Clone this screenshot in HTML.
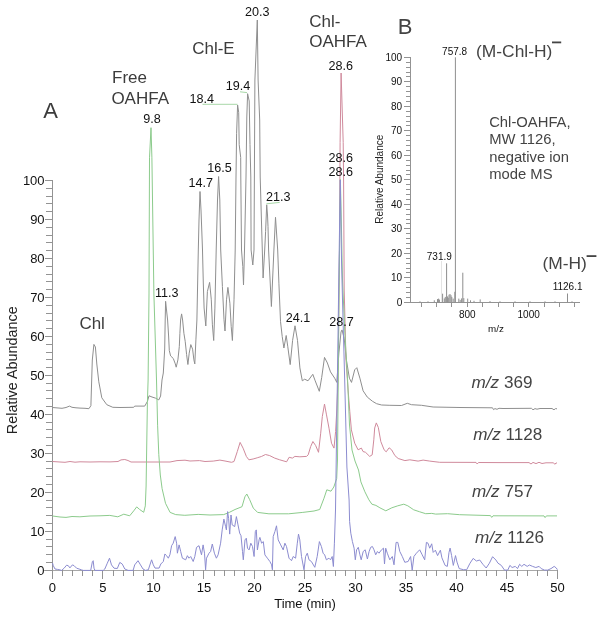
<!DOCTYPE html>
<html><head><meta charset="utf-8"><title>Chromatogram</title>
<style>html,body{margin:0;padding:0;background:#fff;}body{width:602px;height:619px;overflow:hidden;}svg{display:block;will-change:transform;}text{font-family:"Liberation Sans",sans-serif;}</style></head><body>
<svg width="602" height="619" viewBox="0 0 602 619">
<rect width="602" height="619" fill="#fff"/>
<g stroke="#939393" stroke-width="1" fill="none" shape-rendering="crispEdges"><line x1="52.4" y1="180.4" x2="52.4" y2="578.8"/><line x1="44.4" y1="570.3" x2="557.4" y2="570.3" stroke="#a8a8a8"/><line x1="44.6" y1="570.3" x2="52.4" y2="570.3"/><line x1="46.2" y1="562.5" x2="52.4" y2="562.5"/><line x1="46.2" y1="554.7" x2="52.4" y2="554.7"/><line x1="46.2" y1="546.9" x2="52.4" y2="546.9"/><line x1="46.2" y1="539.1" x2="52.4" y2="539.1"/><line x1="44.6" y1="531.3" x2="52.4" y2="531.3"/><line x1="46.2" y1="523.5" x2="52.4" y2="523.5"/><line x1="46.2" y1="515.7" x2="52.4" y2="515.7"/><line x1="46.2" y1="507.9" x2="52.4" y2="507.9"/><line x1="46.2" y1="500.1" x2="52.4" y2="500.1"/><line x1="44.6" y1="492.3" x2="52.4" y2="492.3"/><line x1="46.2" y1="484.5" x2="52.4" y2="484.5"/><line x1="46.2" y1="476.7" x2="52.4" y2="476.7"/><line x1="46.2" y1="468.9" x2="52.4" y2="468.9"/><line x1="46.2" y1="461.1" x2="52.4" y2="461.1"/><line x1="44.6" y1="453.3" x2="52.4" y2="453.3"/><line x1="46.2" y1="445.5" x2="52.4" y2="445.5"/><line x1="46.2" y1="437.7" x2="52.4" y2="437.7"/><line x1="46.2" y1="429.9" x2="52.4" y2="429.9"/><line x1="46.2" y1="422.1" x2="52.4" y2="422.1"/><line x1="44.6" y1="414.3" x2="52.4" y2="414.3"/><line x1="46.2" y1="406.5" x2="52.4" y2="406.5"/><line x1="46.2" y1="398.7" x2="52.4" y2="398.7"/><line x1="46.2" y1="390.9" x2="52.4" y2="390.9"/><line x1="46.2" y1="383.1" x2="52.4" y2="383.1"/><line x1="44.6" y1="375.3" x2="52.4" y2="375.3"/><line x1="46.2" y1="367.6" x2="52.4" y2="367.6"/><line x1="46.2" y1="359.8" x2="52.4" y2="359.8"/><line x1="46.2" y1="352.0" x2="52.4" y2="352.0"/><line x1="46.2" y1="344.2" x2="52.4" y2="344.2"/><line x1="44.6" y1="336.4" x2="52.4" y2="336.4"/><line x1="46.2" y1="328.6" x2="52.4" y2="328.6"/><line x1="46.2" y1="320.8" x2="52.4" y2="320.8"/><line x1="46.2" y1="313.0" x2="52.4" y2="313.0"/><line x1="46.2" y1="305.2" x2="52.4" y2="305.2"/><line x1="44.6" y1="297.4" x2="52.4" y2="297.4"/><line x1="46.2" y1="289.6" x2="52.4" y2="289.6"/><line x1="46.2" y1="281.8" x2="52.4" y2="281.8"/><line x1="46.2" y1="274.0" x2="52.4" y2="274.0"/><line x1="46.2" y1="266.2" x2="52.4" y2="266.2"/><line x1="44.6" y1="258.4" x2="52.4" y2="258.4"/><line x1="46.2" y1="250.6" x2="52.4" y2="250.6"/><line x1="46.2" y1="242.8" x2="52.4" y2="242.8"/><line x1="46.2" y1="235.0" x2="52.4" y2="235.0"/><line x1="46.2" y1="227.2" x2="52.4" y2="227.2"/><line x1="44.6" y1="219.4" x2="52.4" y2="219.4"/><line x1="46.2" y1="211.6" x2="52.4" y2="211.6"/><line x1="46.2" y1="203.8" x2="52.4" y2="203.8"/><line x1="46.2" y1="196.0" x2="52.4" y2="196.0"/><line x1="46.2" y1="188.2" x2="52.4" y2="188.2"/><line x1="44.6" y1="180.4" x2="52.4" y2="180.4"/><line x1="52.4" y1="570.3" x2="52.4" y2="579.1"/><line x1="62.5" y1="570.3" x2="62.5" y2="576.1"/><line x1="72.6" y1="570.3" x2="72.6" y2="576.1"/><line x1="82.7" y1="570.3" x2="82.7" y2="576.1"/><line x1="92.8" y1="570.3" x2="92.8" y2="576.1"/><line x1="102.9" y1="570.3" x2="102.9" y2="579.1"/><line x1="113.0" y1="570.3" x2="113.0" y2="576.1"/><line x1="123.1" y1="570.3" x2="123.1" y2="576.1"/><line x1="133.2" y1="570.3" x2="133.2" y2="576.1"/><line x1="143.3" y1="570.3" x2="143.3" y2="576.1"/><line x1="153.4" y1="570.3" x2="153.4" y2="579.1"/><line x1="163.5" y1="570.3" x2="163.5" y2="576.1"/><line x1="173.6" y1="570.3" x2="173.6" y2="576.1"/><line x1="183.7" y1="570.3" x2="183.7" y2="576.1"/><line x1="193.8" y1="570.3" x2="193.8" y2="576.1"/><line x1="203.9" y1="570.3" x2="203.9" y2="579.1"/><line x1="214.0" y1="570.3" x2="214.0" y2="576.1"/><line x1="224.1" y1="570.3" x2="224.1" y2="576.1"/><line x1="234.2" y1="570.3" x2="234.2" y2="576.1"/><line x1="244.3" y1="570.3" x2="244.3" y2="576.1"/><line x1="254.4" y1="570.3" x2="254.4" y2="579.1"/><line x1="264.5" y1="570.3" x2="264.5" y2="576.1"/><line x1="274.6" y1="570.3" x2="274.6" y2="576.1"/><line x1="284.7" y1="570.3" x2="284.7" y2="576.1"/><line x1="294.8" y1="570.3" x2="294.8" y2="576.1"/><line x1="304.9" y1="570.3" x2="304.9" y2="579.1"/><line x1="315.0" y1="570.3" x2="315.0" y2="576.1"/><line x1="325.1" y1="570.3" x2="325.1" y2="576.1"/><line x1="335.2" y1="570.3" x2="335.2" y2="576.1"/><line x1="345.3" y1="570.3" x2="345.3" y2="576.1"/><line x1="355.4" y1="570.3" x2="355.4" y2="579.1"/><line x1="365.5" y1="570.3" x2="365.5" y2="576.1"/><line x1="375.6" y1="570.3" x2="375.6" y2="576.1"/><line x1="385.7" y1="570.3" x2="385.7" y2="576.1"/><line x1="395.8" y1="570.3" x2="395.8" y2="576.1"/><line x1="405.9" y1="570.3" x2="405.9" y2="579.1"/><line x1="416.0" y1="570.3" x2="416.0" y2="576.1"/><line x1="426.1" y1="570.3" x2="426.1" y2="576.1"/><line x1="436.2" y1="570.3" x2="436.2" y2="576.1"/><line x1="446.3" y1="570.3" x2="446.3" y2="576.1"/><line x1="456.4" y1="570.3" x2="456.4" y2="579.1"/><line x1="466.5" y1="570.3" x2="466.5" y2="576.1"/><line x1="476.6" y1="570.3" x2="476.6" y2="576.1"/><line x1="486.7" y1="570.3" x2="486.7" y2="576.1"/><line x1="496.8" y1="570.3" x2="496.8" y2="576.1"/><line x1="506.9" y1="570.3" x2="506.9" y2="579.1"/><line x1="517.0" y1="570.3" x2="517.0" y2="576.1"/><line x1="527.1" y1="570.3" x2="527.1" y2="576.1"/><line x1="537.2" y1="570.3" x2="537.2" y2="576.1"/><line x1="547.3" y1="570.3" x2="547.3" y2="576.1"/><line x1="557.4" y1="570.3" x2="557.4" y2="579.1"/></g>
<g font-size="13" fill="#111"><text x="44.6" y="575.1" text-anchor="end">0</text><text x="44.6" y="536.1" text-anchor="end">10</text><text x="44.6" y="497.1" text-anchor="end">20</text><text x="44.6" y="458.1" text-anchor="end">30</text><text x="44.6" y="419.1" text-anchor="end">40</text><text x="44.6" y="380.1" text-anchor="end">50</text><text x="44.6" y="341.2" text-anchor="end">60</text><text x="44.6" y="302.2" text-anchor="end">70</text><text x="44.6" y="263.2" text-anchor="end">80</text><text x="44.6" y="224.2" text-anchor="end">90</text><text x="44.6" y="185.2" text-anchor="end">100</text><text x="52.4" y="591.5" text-anchor="middle">0</text><text x="102.9" y="591.5" text-anchor="middle">5</text><text x="153.4" y="591.5" text-anchor="middle">10</text><text x="203.9" y="591.5" text-anchor="middle">15</text><text x="254.4" y="591.5" text-anchor="middle">20</text><text x="304.9" y="591.5" text-anchor="middle">25</text><text x="355.4" y="591.5" text-anchor="middle">30</text><text x="405.9" y="591.5" text-anchor="middle">35</text><text x="456.4" y="591.5" text-anchor="middle">40</text><text x="506.9" y="591.5" text-anchor="middle">45</text><text x="557.4" y="591.5" text-anchor="middle">50</text></g>
<text x="305" y="607.8" font-size="13" fill="#111" text-anchor="middle">Time (min)</text>
<text transform="translate(17.2,370.2) rotate(-90)" font-size="14.4" fill="#222" text-anchor="middle">Relative Abundance</text>
<g fill="none" stroke-width="1" stroke-linejoin="round">
<polyline stroke="#8f8f8f" points="52.5,407.5 56.0,407.8 62.0,408.3 66.0,407.5 69.5,406.1 72.0,407.3 76.0,407.8 80.0,408.1 85.0,408.3 88.9,408.7 90.9,405.7 92.3,360.0 93.9,344.4 95.4,347.0 96.8,364.0 98.8,381.8 101.8,397.8 106.8,404.7 112.8,407.3 120.0,407.5 133.7,407.3 134.7,406.1 144.7,406.1 147.4,401.5 149.0,395.8 152.0,397.0 155.4,398.1 158.8,399.9 160.6,396.0 162.0,380.0 163.3,373.0 164.7,349.0 165.2,320.0 165.6,301.3 166.5,310.0 167.6,320.0 168.6,336.0 169.3,350.6 170.6,355.9 173.3,358.5 175.3,363.9 176.2,367.2 177.9,359.9 179.3,346.6 179.9,333.3 180.6,320.0 181.6,313.9 182.6,320.0 183.9,333.3 185.2,341.3 186.6,354.6 187.9,364.5 189.2,353.2 190.8,344.6 192.6,349.2 193.9,359.9 194.8,363.9 195.9,339.9 196.9,320.0 197.5,290.0 198.3,250.0 199.0,220.0 200.0,191.5 201.0,210.0 202.5,250.0 203.3,283.0 204.1,308.0 205.8,326.0 207.4,291.5 209.6,282.4 211.3,299.8 212.4,324.8 213.7,340.5 214.9,308.1 216.2,250.0 217.5,200.0 218.6,176.5 219.8,200.0 220.7,250.0 222.4,286.5 224.0,319.8 225.0,331.0 226.5,299.8 227.9,287.4 229.9,303.2 231.2,326.4 232.4,340.5 234.0,299.8 235.2,250.0 236.0,177.0 236.6,133.3 237.6,105.0 238.7,112.3 239.2,144.6 240.7,157.5 240.8,177.0 241.5,250.0 242.8,266.6 243.5,285.0 244.5,250.0 246.0,177.0 246.8,117.0 247.6,93.7 249.2,101.0 250.0,144.6 250.8,177.0 251.1,250.0 252.8,265.0 254.0,250.0 254.9,80.0 257.3,20.0 258.1,80.0 259.7,120.0 260.2,177.0 262.3,250.0 263.1,278.0 264.7,250.0 265.6,231.4 266.7,204.8 267.5,215.0 268.0,226.4 268.6,250.0 271.4,306.5 273.9,250.0 275.5,217.3 277.7,250.0 278.9,283.2 280.5,321.4 282.2,336.4 283.9,348.0 286.2,335.5 287.8,346.8 290.2,364.6 292.6,340.4 295.0,325.8 297.5,340.4 299.9,367.9 302.3,380.8 304.7,379.2 308.0,380.8 312.8,374.3 315.2,380.8 319.3,391.3 321.7,377.5 324.5,357.4 327.4,363.0 330.5,371.9 334.7,378.2 336.8,382.4 338.9,353.0 341.0,332.0 342.0,329.9 344.2,338.3 346.3,359.3 349.4,378.2 351.5,382.4 354.7,369.8 356.8,367.7 359.9,378.2 363.1,390.8 367.3,397.1 372.5,401.3 376.6,403.7 381.6,405.0 389.9,405.3 401.5,405.5 407.3,403.3 411.5,404.7 421.5,405.3 433.1,407.0 460.0,407.5 492.5,407.8 493.5,409.6 495.0,408.6 497.0,409.3 499.0,408.3 503.0,408.5 531.4,408.3 533.0,409.8 535.0,408.6 537.0,409.2 540.0,408.5 552.0,408.5 554.0,409.8 555.5,408.6 557.0,408.8"/>
<polyline stroke="#d08a9c" points="52.5,461.5 60.0,462.0 65.0,462.3 70.0,461.5 75.0,462.2 80.0,461.8 90.0,462.0 100.0,461.8 110.0,461.9 118.0,461.5 121.0,459.9 124.8,459.5 128.0,460.5 131.0,462.0 170.0,462.0 177.0,460.6 185.0,460.2 190.0,461.0 199.5,460.6 205.0,461.5 213.2,461.1 219.9,460.1 225.0,461.0 231.5,462.3 234.0,461.5 237.3,451.5 240.1,442.4 243.1,448.2 246.4,456.5 248.9,459.8 253.1,459.0 257.2,457.8 261.4,456.5 265.5,454.5 269.7,455.6 274.7,458.1 279.7,459.8 286.6,461.8 289.1,457.3 292.4,458.1 294.9,456.4 299.9,456.8 306.6,456.4 308.2,454.8 310.7,446.5 312.9,441.5 315.7,445.6 318.5,452.3 320.7,433.2 322.3,416.6 324.5,404.1 326.5,414.9 329.0,428.2 331.5,443.2 334.0,448.1 335.6,431.5 336.8,410.0 338.0,380.0 339.5,250.0 340.1,142.5 341.1,73.0 343.2,142.5 343.6,181.0 344.2,290.0 346.0,360.0 348.1,390.0 349.8,411.6 351.4,429.9 354.7,443.2 358.1,449.8 361.4,448.1 363.0,451.5 365.5,452.3 369.7,456.4 372.2,454.8 373.8,439.8 374.7,428.0 376.3,422.9 378.3,427.4 380.8,441.5 384.1,449.8 386.2,451.8 389.1,447.8 391.6,449.8 394.9,455.6 398.2,458.5 404.9,460.6 409.8,459.8 418.1,461.1 423.1,460.1 429.8,461.1 439.7,462.3 476.0,462.4 477.2,464.0 478.5,462.5 500.0,462.6 529.0,462.6 531.0,464.0 533.0,462.4 536.0,463.6 539.0,462.3 542.0,463.5 546.0,462.8 553.5,462.8 554.8,464.3 556.0,463.0 557.0,463.0"/>
<polyline stroke="#8ccb8c" points="52.5,516.0 54.0,516.2 60.0,517.0 66.0,517.4 72.0,516.5 79.9,516.8 90.0,516.0 100.0,515.8 109.8,515.4 117.8,516.8 123.8,514.2 129.7,515.8 133.7,510.9 136.7,506.9 139.7,509.5 143.7,512.3 145.3,505.9 146.1,486.0 147.4,402.6 148.1,380.0 149.0,294.0 149.5,157.8 151.0,127.7 151.9,157.8 153.9,294.0 156.5,380.0 157.6,425.2 158.8,454.7 160.3,475.0 162.1,488.6 165.5,503.3 170.1,512.4 175.7,514.6 184.8,515.3 198.2,514.4 210.0,515.0 223.7,514.6 229.3,512.4 235.0,509.5 242.0,506.7 244.9,496.8 246.8,494.0 249.7,499.7 253.3,508.1 257.6,512.4 268.9,513.8 288.6,513.8 302.8,512.4 314.0,511.0 319.7,509.5 324.0,498.2 326.8,489.8 331.0,491.2 333.8,487.0 336.7,478.5 337.5,460.0 338.5,350.0 339.5,250.0 340.4,179.5 341.5,230.0 342.5,280.0 345.2,340.0 347.6,380.0 349.5,425.0 352.0,450.0 355.0,461.0 358.5,470.0 360.9,481.9 364.9,491.8 368.9,499.8 371.9,504.2 375.9,505.4 379.9,507.8 385.8,510.8 391.8,507.8 397.8,505.8 403.8,504.2 407.8,505.8 413.7,509.8 419.7,511.8 425.7,513.7 431.7,513.4 435.7,514.1 447.6,513.7 459.6,514.7 490.5,515.6 491.7,517.4 493.0,515.8 544.0,515.9 545.1,517.6 546.4,515.9 557.0,515.9"/>
<polyline stroke="#8c8cd0" points="52.5,563.0 53.3,565.7 55.0,569.0 57.5,569.4 60.0,569.9 61.6,570.4 64.1,568.2 66.6,565.2 68.3,565.7 69.9,567.9 72.4,564.9 74.1,565.7 76.6,568.2 79.1,569.0 81.6,569.9 83.2,570.4 90.7,570.4 92.4,561.6 93.2,560.7 94.0,568.2 94.9,570.4 103.2,570.4 104.8,569.0 107.3,563.2 109.5,558.2 111.5,564.9 114.0,568.2 117.3,568.5 119.8,562.4 122.3,564.1 124.8,569.0 128.1,570.4 133.1,570.4 134.7,564.9 138.0,560.7 140.5,564.9 143.0,569.0 145.5,570.4 148.3,569.8 151.6,559.8 153.3,564.8 155.0,568.1 159.1,568.1 160.8,564.0 163.3,561.5 164.9,554.0 166.6,555.7 168.3,558.2 169.9,554.8 171.6,545.7 173.2,543.2 175.2,536.6 176.6,543.2 177.4,553.2 179.1,544.9 180.7,551.5 182.4,558.2 185.7,559.8 187.4,555.7 189.0,558.2 190.7,556.5 193.2,561.5 194.8,556.5 196.5,547.4 199.0,545.7 201.5,554.8 203.1,544.9 204.5,553.2 205.6,569.8 206.5,558.2 209.0,553.2 210.6,551.5 212.3,544.0 214.4,553.2 216.4,558.2 218.1,554.8 220.6,543.2 222.2,529.9 223.9,519.1 225.6,526.6 226.4,529.9 227.6,511.6 228.6,518.3 229.7,534.1 231.0,515.0 232.2,524.9 234.7,526.6 236.4,516.6 238.0,524.9 239.7,533.2 241.0,535.7 242.5,551.5 243.3,559.8 245.0,539.9 246.3,538.2 247.5,548.2 249.1,549.9 250.8,543.2 252.5,546.5 254.1,556.5 255.3,531.6 256.3,529.9 257.4,549.9 259.1,539.9 259.9,537.4 261.6,543.2 263.3,541.6 264.9,554.9 267.4,558.2 269.9,561.5 271.6,564.8 272.4,569.8 273.2,536.6 274.9,531.6 276.5,525.8 278.2,539.9 280.7,544.9 283.2,549.9 284.9,543.2 286.5,546.5 289.0,558.2 291.5,560.7 293.2,556.5 295.6,558.2 297.3,543.2 298.5,534.1 299.8,539.9 301.5,556.5 304.0,569.8 305.6,556.5 307.3,553.2 309.0,559.8 311.4,561.5 314.8,567.3 317.2,556.5 319.4,541.6 321.4,546.5 323.1,553.2 324.7,554.9 326.4,559.8 328.9,558.2 330.5,559.8 332.2,556.5 333.4,566.5 334.4,543.2 335.5,510.0 336.5,440.0 337.4,380.0 338.5,300.0 339.5,230.0 340.3,180.0 340.9,220.0 341.5,260.0 342.5,300.0 344.7,380.0 346.9,467.0 349.1,500.0 349.6,521.6 350.8,533.2 352.4,541.5 354.1,548.2 355.3,559.8 356.6,549.8 358.3,547.3 359.9,554.8 361.2,559.8 363.2,551.5 365.2,549.8 367.4,559.0 369.1,551.5 370.7,547.3 372.4,546.5 374.0,549.8 375.7,554.8 377.4,551.5 379.0,553.2 381.5,549.8 383.5,548.2 384.5,564.0 385.7,548.2 387.3,553.2 389.8,559.8 392.3,556.5 394.0,564.8 396.1,542.4 397.8,542.4 399.8,551.5 402.3,556.5 404.8,562.3 408.1,561.5 410.6,556.5 412.2,570.2 413.9,556.5 416.4,553.2 419.7,549.8 422.2,554.8 424.7,559.8 426.4,542.4 428.0,543.2 429.7,548.2 431.7,543.8 433.2,552.4 435.4,550.2 437.6,555.6 440.4,550.2 441.9,557.8 445.1,565.4 447.3,566.4 449.0,552.4 450.1,548.1 451.6,555.6 453.3,565.4 455.5,555.6 457.0,562.1 459.2,568.6 463.5,569.7 466.7,569.7 470.0,563.2 473.2,558.4 476.4,561.0 479.7,560.0 482.9,564.3 486.2,568.0 489.4,563.2 492.6,556.7 495.9,560.0 498.0,563.2 501.3,565.4 504.5,570.1 507.8,570.1 509.9,565.4 512.1,567.5 515.3,566.4 517.5,568.6 519.6,564.3 521.8,566.4 524.0,564.3 527.2,566.4 529.4,565.0 532.6,566.4 535.8,567.5 539.1,566.4 541.2,568.6 544.5,570.1 547.7,570.1 551.0,568.6 554.2,566.4 556.3,568.0 557.4,569.7"/>
</g>
<g stroke="#a8d8a8" stroke-width="1" fill="none"><line x1="202.5" y1="104.3" x2="237.6" y2="104.3"/><line x1="240" y1="91.8" x2="247" y2="92.6"/><line x1="266.4" y1="203.8" x2="279.7" y2="202.4"/></g>
<g font-size="12.6" fill="#111" text-anchor="middle"><text x="152.0" y="123.3">9.8</text><text x="166.7" y="296.6">11.3</text><text x="200.7" y="186.6">14.7</text><text x="219.5" y="171.8">16.5</text><text x="201.8" y="102.5">18.4</text><text x="238.0" y="89.7">19.4</text><text x="257.3" y="16.2">20.3</text><text x="278.2" y="200.7">21.3</text><text x="298.0" y="321.6">24.1</text><text x="341.4" y="326.0">28.7</text><text x="340.7" y="69.8">28.6</text><text x="340.7" y="161.8">28.6</text><text x="340.7" y="176.3">28.6</text></g>
<g font-size="17" fill="#3c3c3c"><text x="43.2" y="118.2" font-size="22">A</text><text x="112" y="83.4">Free</text><text x="111.4" y="104">OAHFA</text><text x="192.2" y="54.2">Chl-E</text><text x="309.2" y="26.6">Chl-</text><text x="309.2" y="47.1">OAHFA</text><text x="79.4" y="328.6">Chl</text></g>
<g font-size="17.1" fill="#444"><text x="471.6" y="387.9"><tspan font-style="italic">m/z</tspan> 369</text><text x="473.3" y="440.3"><tspan font-style="italic">m/z</tspan> 1128</text><text x="472.1" y="497.3"><tspan font-style="italic">m/z</tspan> 757</text><text x="475.0" y="543.3"><tspan font-style="italic">m/z</tspan> 1126</text></g>
<g stroke="#939393" stroke-width="1" fill="none" shape-rendering="crispEdges"><line x1="410.4" y1="57.3" x2="410.4" y2="302.3"/><line x1="404.4" y1="302.3" x2="580.2" y2="302.3"/><line x1="404.4" y1="302.3" x2="410.4" y2="302.3"/><line x1="406.1" y1="297.4" x2="410.4" y2="297.4"/><line x1="406.1" y1="292.5" x2="410.4" y2="292.5"/><line x1="406.1" y1="287.6" x2="410.4" y2="287.6"/><line x1="406.1" y1="282.7" x2="410.4" y2="282.7"/><line x1="404.4" y1="277.8" x2="410.4" y2="277.8"/><line x1="406.1" y1="272.9" x2="410.4" y2="272.9"/><line x1="406.1" y1="268.0" x2="410.4" y2="268.0"/><line x1="406.1" y1="263.1" x2="410.4" y2="263.1"/><line x1="406.1" y1="258.2" x2="410.4" y2="258.2"/><line x1="404.4" y1="253.3" x2="410.4" y2="253.3"/><line x1="406.1" y1="248.4" x2="410.4" y2="248.4"/><line x1="406.1" y1="243.5" x2="410.4" y2="243.5"/><line x1="406.1" y1="238.6" x2="410.4" y2="238.6"/><line x1="406.1" y1="233.7" x2="410.4" y2="233.7"/><line x1="404.4" y1="228.8" x2="410.4" y2="228.8"/><line x1="406.1" y1="223.9" x2="410.4" y2="223.9"/><line x1="406.1" y1="219.0" x2="410.4" y2="219.0"/><line x1="406.1" y1="214.1" x2="410.4" y2="214.1"/><line x1="406.1" y1="209.2" x2="410.4" y2="209.2"/><line x1="404.4" y1="204.3" x2="410.4" y2="204.3"/><line x1="406.1" y1="199.4" x2="410.4" y2="199.4"/><line x1="406.1" y1="194.5" x2="410.4" y2="194.5"/><line x1="406.1" y1="189.6" x2="410.4" y2="189.6"/><line x1="406.1" y1="184.7" x2="410.4" y2="184.7"/><line x1="404.4" y1="179.8" x2="410.4" y2="179.8"/><line x1="406.1" y1="174.9" x2="410.4" y2="174.9"/><line x1="406.1" y1="170.0" x2="410.4" y2="170.0"/><line x1="406.1" y1="165.1" x2="410.4" y2="165.1"/><line x1="406.1" y1="160.2" x2="410.4" y2="160.2"/><line x1="404.4" y1="155.3" x2="410.4" y2="155.3"/><line x1="406.1" y1="150.4" x2="410.4" y2="150.4"/><line x1="406.1" y1="145.5" x2="410.4" y2="145.5"/><line x1="406.1" y1="140.6" x2="410.4" y2="140.6"/><line x1="406.1" y1="135.7" x2="410.4" y2="135.7"/><line x1="404.4" y1="130.8" x2="410.4" y2="130.8"/><line x1="406.1" y1="125.9" x2="410.4" y2="125.9"/><line x1="406.1" y1="121.0" x2="410.4" y2="121.0"/><line x1="406.1" y1="116.1" x2="410.4" y2="116.1"/><line x1="406.1" y1="111.2" x2="410.4" y2="111.2"/><line x1="404.4" y1="106.3" x2="410.4" y2="106.3"/><line x1="406.1" y1="101.4" x2="410.4" y2="101.4"/><line x1="406.1" y1="96.5" x2="410.4" y2="96.5"/><line x1="406.1" y1="91.6" x2="410.4" y2="91.6"/><line x1="406.1" y1="86.7" x2="410.4" y2="86.7"/><line x1="404.4" y1="81.8" x2="410.4" y2="81.8"/><line x1="406.1" y1="76.9" x2="410.4" y2="76.9"/><line x1="406.1" y1="72.0" x2="410.4" y2="72.0"/><line x1="406.1" y1="67.1" x2="410.4" y2="67.1"/><line x1="406.1" y1="62.2" x2="410.4" y2="62.2"/><line x1="404.4" y1="57.3" x2="410.4" y2="57.3"/><line x1="421.2" y1="302.3" x2="421.2" y2="307.1"/><line x1="436.6" y1="302.3" x2="436.6" y2="307.1"/><line x1="451.9" y1="302.3" x2="451.9" y2="307.1"/><line x1="467.3" y1="302.3" x2="467.3" y2="307.1"/><line x1="482.7" y1="302.3" x2="482.7" y2="307.1"/><line x1="498.0" y1="302.3" x2="498.0" y2="307.1"/><line x1="513.4" y1="302.3" x2="513.4" y2="307.1"/><line x1="528.7" y1="302.3" x2="528.7" y2="307.1"/><line x1="544.0" y1="302.3" x2="544.0" y2="307.1"/><line x1="559.4" y1="302.3" x2="559.4" y2="307.1"/><line x1="574.8" y1="302.3" x2="574.8" y2="307.1"/></g>
<g font-size="10" fill="#111"><text x="402.2" y="305.9" text-anchor="end">0</text><text x="402.2" y="281.4" text-anchor="end">10</text><text x="402.2" y="256.9" text-anchor="end">20</text><text x="402.2" y="232.4" text-anchor="end">30</text><text x="402.2" y="207.9" text-anchor="end">40</text><text x="402.2" y="183.4" text-anchor="end">50</text><text x="402.2" y="158.9" text-anchor="end">60</text><text x="402.2" y="134.4" text-anchor="end">70</text><text x="402.2" y="109.9" text-anchor="end">80</text><text x="402.2" y="85.4" text-anchor="end">90</text><text x="402.2" y="60.9" text-anchor="end">100</text><text x="467.3" y="318.4" text-anchor="middle">800</text><text x="528.7" y="318.4" text-anchor="middle">1000</text></g>
<text x="496" y="331.8" font-size="9.8" fill="#111" text-anchor="middle">m/z</text>
<text transform="translate(383.2,179.2) rotate(-90)" font-size="10" fill="#222" text-anchor="middle">Relative Abundance</text>
<g stroke="#8e8e8e" stroke-width="1"><line x1="455.4" y1="302.3" x2="455.4" y2="57.3"/><line x1="446.6" y1="302.3" x2="446.6" y2="263.3"/><line x1="462.8" y1="302.3" x2="462.8" y2="272.7"/><line x1="442.6" y1="302.3" x2="442.6" y2="293.7"/><line x1="454.8" y1="302.3" x2="454.8" y2="291.8"/><line x1="449.0" y1="302.3" x2="449.0" y2="294.7"/><line x1="450.0" y1="302.3" x2="450.0" y2="294.0"/><line x1="451.0" y1="302.3" x2="451.0" y2="295.2"/><line x1="451.8" y1="302.3" x2="451.8" y2="296.9"/><line x1="437.5" y1="302.3" x2="437.5" y2="299.1"/><line x1="438.6" y1="302.3" x2="438.6" y2="298.6"/><line x1="439.4" y1="302.3" x2="439.4" y2="299.6"/><line x1="444.3" y1="302.3" x2="444.3" y2="298.4"/><line x1="445.3" y1="302.3" x2="445.3" y2="296.9"/><line x1="447.6" y1="302.3" x2="447.6" y2="296.4"/><line x1="448.2" y1="302.3" x2="448.2" y2="297.9"/><line x1="453.2" y1="302.3" x2="453.2" y2="298.6"/><line x1="458.8" y1="302.3" x2="458.8" y2="298.6"/><line x1="460.2" y1="302.3" x2="460.2" y2="299.9"/><line x1="461.6" y1="302.3" x2="461.6" y2="298.4"/><line x1="463.8" y1="302.3" x2="463.8" y2="298.1"/><line x1="467.7" y1="302.3" x2="467.7" y2="298.6"/><line x1="470.5" y1="302.3" x2="470.5" y2="300.3"/><line x1="474.0" y1="302.3" x2="474.0" y2="300.8"/><line x1="434.3" y1="302.3" x2="434.3" y2="300.3"/><line x1="480.2" y1="302.3" x2="480.2" y2="299.4"/><line x1="567.5" y1="302.3" x2="567.5" y2="293.5"/><line x1="420.0" y1="302.3" x2="420.0" y2="301.3"/><line x1="428.0" y1="302.3" x2="428.0" y2="301.3"/><line x1="490.0" y1="302.3" x2="490.0" y2="301.1"/><line x1="500.0" y1="302.3" x2="500.0" y2="301.3"/><line x1="515.0" y1="302.3" x2="515.0" y2="301.3"/><line x1="530.0" y1="302.3" x2="530.0" y2="301.3"/><line x1="545.0" y1="302.3" x2="545.0" y2="301.3"/><line x1="555.0" y1="302.3" x2="555.0" y2="301.3"/><line x1="572.0" y1="302.3" x2="572.0" y2="301.3"/></g>
<line x1="441.5" y1="261" x2="441.5" y2="302" stroke="#e4e4e4" stroke-width="1"/>
<g font-size="10" fill="#111" text-anchor="middle"><text x="454.6" y="54.8">757.8</text><text x="439.3" y="260.3">731.9</text><text x="567.6" y="290.3">1126.1</text></g>
<text x="397.8" y="33.6" font-size="22" fill="#444">B</text>
<g font-size="17.4" fill="#444"><text x="476" y="56.6">(M-Chl-H)</text><text x="542.4" y="269.3">(M-H)</text></g>
<g fill="#444"><rect x="552" y="41.5" width="9.2" height="1.8"/><rect x="586.6" y="255.2" width="9.8" height="1.8"/></g>
<g font-size="14.8" fill="#444"><text x="489.2" y="127.0">Chl-OAHFA,</text><text x="489.2" y="144.4">MW 1126,</text><text x="489.2" y="161.9">negative ion</text><text x="489.2" y="179.3">mode MS</text></g>
</svg></body></html>
